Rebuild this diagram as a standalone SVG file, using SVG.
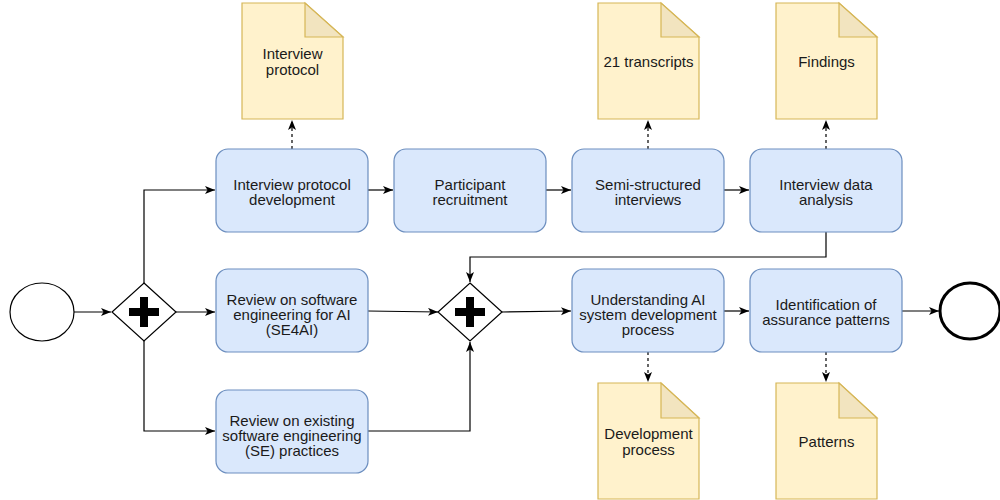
<svg xmlns="http://www.w3.org/2000/svg" width="1000" height="500" viewBox="0 0 1000 500">
<defs>
<style>
.task{fill:#dae8fc;stroke:#6c8ebf;stroke-width:1.2}
.doc{fill:#fff2cc;stroke:#d6b656;stroke-width:1.2}
.fold{fill:#f2e4bf;stroke:#d6b656;stroke-width:1.2}
.gw{fill:#ffffff;stroke:#000000;stroke-width:1.2}
.plus{fill:#000000}
.t{font-family:"Liberation Sans",Arial,Helvetica,sans-serif;font-size:15px;fill:#1a1a1a;text-anchor:middle}
.c{fill:none;stroke:#000000;stroke-width:1.2}
.d{fill:none;stroke:#000000;stroke-width:1.2;stroke-dasharray:3 3}
</style>
<marker id="arr" markerUnits="userSpaceOnUse" markerWidth="11" markerHeight="9" refX="10" refY="4" orient="auto">
<path d="M0,0 L10,4 L0,8 L2.5,4 z" fill="#000"/>
</marker>
</defs>

<g id="connectors">
<path class="c" d="M74,312 L111,312" marker-end="url(#arr)"/>
<path class="c" d="M144,283 L144,190 L215,190" marker-end="url(#arr)"/>
<path class="c" d="M176,312 L215,312" marker-end="url(#arr)"/>
<path class="c" d="M144,341 L144,431 L215,431" marker-end="url(#arr)"/>
<path class="c" d="M368,190 L393,190" marker-end="url(#arr)"/>
<path class="c" d="M546,190 L571,190" marker-end="url(#arr)"/>
<path class="c" d="M724,190 L749,190" marker-end="url(#arr)"/>
<path class="c" d="M826,232 L826,257 L470,257 L470,282" marker-end="url(#arr)"/>
<path class="c" d="M368,311 L438,312" marker-end="url(#arr)"/>
<path class="c" d="M368,431 L470,431 L470,342" marker-end="url(#arr)"/>
<path class="c" d="M502,312 L571,311" marker-end="url(#arr)"/>
<path class="c" d="M724,311 L749,311" marker-end="url(#arr)"/>
<path class="c" d="M902,311 L939,311" marker-end="url(#arr)"/>
<path class="d" d="M292,149 L292,120" marker-end="url(#arr)"/>
<path class="d" d="M648,149 L648,120" marker-end="url(#arr)"/>
<path class="d" d="M826,149 L826,120" marker-end="url(#arr)"/>
<path class="d" d="M648,352 L648,382" marker-end="url(#arr)"/>
<path class="d" d="M826,352 L826,382" marker-end="url(#arr)"/>
</g>

<g id="start"><ellipse cx="42" cy="312" rx="32" ry="29" fill="#fff" stroke="#000" stroke-width="1.2"/></g>
<g id="end"><ellipse cx="970" cy="311" rx="30" ry="28" fill="#fff" stroke="#000" stroke-width="3"/></g>

<g id="gateway1">
<path class="gw" d="M144,283 L176,312 L144,341 L112,312 z"/>
<path class="plus" d="M140,297 h8 v11 h11 v8 h-11 v11 h-8 v-11 h-11 v-8 h11 z"/>
</g>
<g id="gateway2">
<path class="gw" d="M470,283 L502,312 L470,341 L438,312 z"/>
<path class="plus" d="M466,297 h8 v11 h11 v8 h-11 v11 h-8 v-11 h-11 v-8 h11 z"/>
</g>

<g id="task-protocol-dev"><rect class="task" x="216" y="149" width="152" height="83" rx="12"/>
<text class="t" x="292" y="190">Interview protocol</text><text class="t" x="292" y="205">development</text></g>
<g id="task-recruitment"><rect class="task" x="394" y="149" width="152" height="83" rx="12"/>
<text class="t" x="470" y="190">Participant</text><text class="t" x="470" y="205">recruitment</text></g>
<g id="task-interviews"><rect class="task" x="572" y="149" width="152" height="83" rx="12"/>
<text class="t" x="648" y="190">Semi-structured</text><text class="t" x="648" y="205">interviews</text></g>
<g id="task-analysis"><rect class="task" x="750" y="149" width="152" height="83" rx="12"/>
<text class="t" x="826" y="190">Interview data</text><text class="t" x="826" y="205">analysis</text></g>

<g id="task-se4ai"><rect class="task" x="216" y="269" width="152" height="83" rx="12"/>
<text class="t" x="292" y="304.5">Review on software</text><text class="t" x="292" y="319.5">engineering for AI</text><text class="t" x="292" y="334.5">(SE4AI)</text></g>
<g id="task-understanding"><rect class="task" x="572" y="269" width="152" height="83" rx="12"/>
<text class="t" x="648" y="304.5">Understanding AI</text><text class="t" x="648" y="319.5">system development</text><text class="t" x="648" y="334.5">process</text></g>
<g id="task-identification"><rect class="task" x="750" y="269" width="152" height="83" rx="12"/>
<text class="t" x="826" y="310">Identification of</text><text class="t" x="826" y="325">assurance patterns</text></g>
<g id="task-se-practices"><rect class="task" x="216" y="390" width="152" height="83" rx="12"/>
<text class="t" x="292" y="425.5">Review on existing</text><text class="t" x="292" y="440.5">software engineering</text><text class="t" x="292" y="455.5">(SE) practices</text></g>

<g id="doc-protocol"><path class="doc" d="M242,3 H305 L343,37 V119 H242 z"/><path class="fold" d="M305,3 L343,37 H305 z"/>
<text class="t" x="292.5" y="59">Interview</text><text class="t" x="292.5" y="74.5">protocol</text></g>
<g id="doc-transcripts"><path class="doc" d="M598,3 H661 L699,37 V119 H598 z"/><path class="fold" d="M661,3 L699,37 H661 z"/>
<text class="t" x="648.5" y="66.5">21 transcripts</text></g>
<g id="doc-findings"><path class="doc" d="M776,3 H839 L877,37 V119 H776 z"/><path class="fold" d="M839,3 L877,37 H839 z"/>
<text class="t" x="826.5" y="66.5">Findings</text></g>
<g id="doc-dev-process"><path class="doc" d="M598,383 H661 L699,418 V499 H598 z"/><path class="fold" d="M661,383 L699,418 H661 z"/>
<text class="t" x="648.5" y="439">Development</text><text class="t" x="648.5" y="454.5">process</text></g>
<g id="doc-patterns"><path class="doc" d="M776,383 H839 L877,418 V499 H776 z"/><path class="fold" d="M839,383 L877,418 H839 z"/>
<text class="t" x="826.5" y="446.5">Patterns</text></g>
</svg>
